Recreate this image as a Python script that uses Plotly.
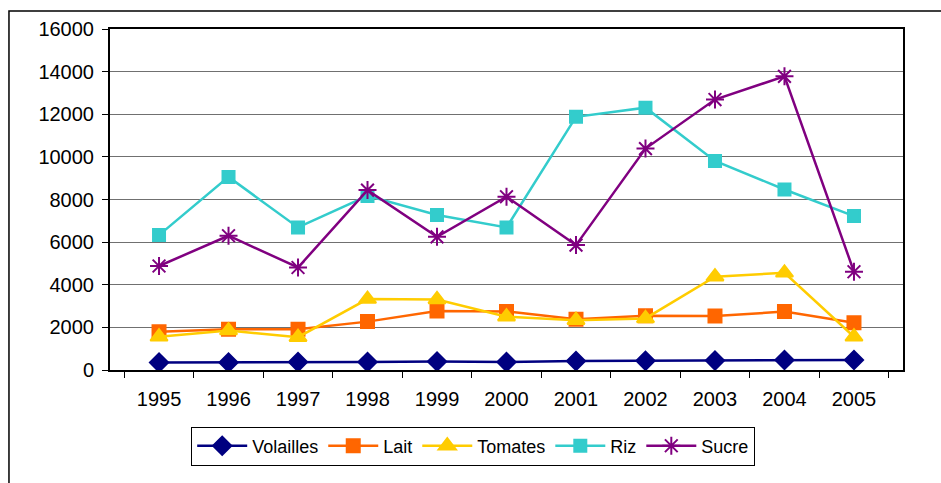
import plotly.graph_objects as go

annees = ["1995", "1996", "1997", "1998", "1999", "2000", "2001", "2002", "2003", "2004", "2005"]
volailles = [350, 350, 370, 370, 400, 370, 420, 430, 440, 470, 470]
lait = [1800, 1910, 1910, 2270, 2770, 2750, 2380, 2550, 2530, 2740, 2220]
tomates = [1560, 1850, 1540, 3330, 3310, 2500, 2340, 2420, 4380, 4560, 1560]
riz = [6330, 9060, 6690, 8170, 7270, 6690, 11880, 12310, 9810, 8470, 7220]
sucre = [4880, 6300, 4810, 8440, 6250, 8130, 5860, 10390, 12690, 13780, 4610]

fig = go.Figure()

# series : nom, valeurs, couleur, symbole, taille
series = [
    ("Volailles", volailles, "#000080", "diamond", 14),
    ("Lait", lait, "#FF6600", "square", 13),
    ("Tomates", tomates, "#FFCC00", "triangle-up", 15),
    ("Riz", riz, "#33CCCC", "square", 12),
    ("Sucre", sucre, "#800080", "asterisk-open", 15),
]

for nom, valeurs, couleur, symbole, taille in series:
    fig.add_scatter(
        x=annees,
        y=valeurs,
        name=nom,
        mode="lines+markers",
        line=dict(color=couleur, width=2.5),
        marker=dict(symbol=symbole, size=taille, color=couleur,
                    line=dict(color=couleur, width=2)),
    )

# cadre extérieur du graphique
fig.add_shape(type="rect", xref="paper", yref="paper",
              x0=-0.1274, x1=1.06, y0=-0.36, y1=1.0528,
              line=dict(color="black", width=1.5), fillcolor="rgba(0,0,0,0)")

fig.update_layout(
    width=941,
    height=483,
    margin=dict(l=110, r=38, t=29, b=113),
    plot_bgcolor="white",
    paper_bgcolor="white",
    font=dict(family="Liberation Sans, Arial", size=20, color="black"),
    xaxis=dict(
        type="category",
        showgrid=False,
        showline=True, linecolor="black", linewidth=2, mirror=True,
        ticks="outside", tickson="boundaries", ticklen=6, tickcolor="black",
        ticklabelstandoff=10,
    ),
    yaxis=dict(
        range=[0, 16000], dtick=2000, tickformat="d",
        showgrid=True, gridcolor="#707070", gridwidth=1,
        showline=True, linecolor="black", linewidth=2, mirror=True,
        ticks="outside", ticklen=6, tickcolor="black",
        ticklabelstandoff=4,
        zeroline=False,
    ),
    legend=dict(
        orientation="h",
        x=0.458, xanchor="center",
        y=-0.223, yanchor="middle",
        bordercolor="black", borderwidth=1,
        font=dict(size=18),
        itemwidth=50,
    ),
)

# marge du body à zéro pour caler le graphe en haut à gauche
fig.write_html("out.html", config={"displayModeBar": False},
               post_script="document.body.style.margin='0';")
